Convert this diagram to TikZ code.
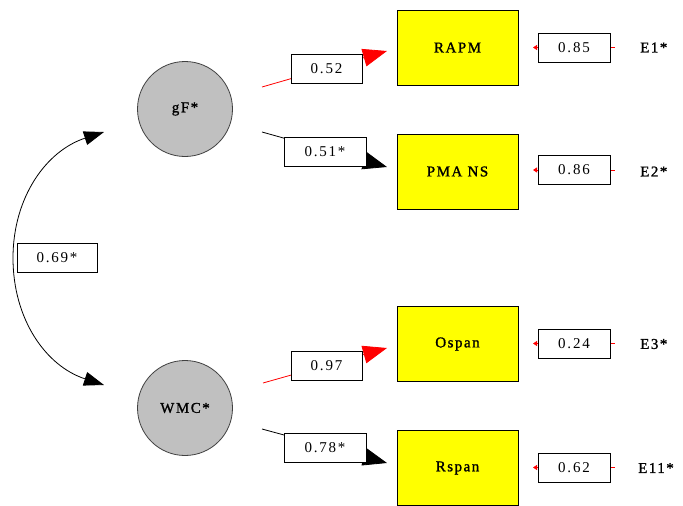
\documentclass[tikz,border=0pt]{standalone}
\usepackage{fontspec}
\setmainfont{Liberation Serif}
\newfontfamily\namefont[LetterSpace=10,FakeBold=1.2]{Liberation Serif}
\newfontfamily\numfont[LetterSpace=12]{Liberation Serif}
\usetikzlibrary{arrows.meta}
\definecolor{latgray}{HTML}{C0C0C0}
\definecolor{obsyel}{HTML}{FFFF00}
\tikzset{
  latent/.style={circle, fill=latgray, draw=black!75, line width=0.8pt, minimum size=95pt, inner sep=0pt, font=\namefont\fontsize{15}{17}\selectfont},
  observed/.style={rectangle, fill=obsyel, draw=black, line width=0.9pt, minimum width=121pt, minimum height=75pt, inner sep=0pt, font=\namefont\fontsize{15}{17}\selectfont},
  coef/.style={rectangle, fill=white, draw=black, line width=0.9pt, minimum height=29pt, inner sep=0pt, font=\numfont\fontsize{15}{17}\selectfont},
  errlab/.style={inner sep=0pt, anchor=west, font=\namefont\fontsize{15}{17}\selectfont},
  pathred/.style={red, line width=0.8pt, -{Triangle[length=24pt,width=18pt]}},
  pathblk/.style={black, line width=0.8pt, -{Triangle[length=24pt,width=18pt]}},
  errpath/.style={red, line width=0.8pt, {Triangle[length=4pt,width=5pt]}-},
  covpath/.style={black, line width=0.8pt, {Triangle[length=20pt,width=14pt]}-{Triangle[length=20pt,width=14pt]}}
}
\begin{document}
\begin{tikzpicture}[x=1pt,y=-1pt]
\useasboundingbox (0,0) rectangle (683,506);
% latent variables
\node[latent] (gF) at (185,109) {gF*};
\node[latent] (WMC) at (185,408) {WMC*};
% observed variables
\node[observed] (RAPM) at (457.5,47.5) {RAPM};
\node[observed] (PMA) at (457.5,171.5) {PMA NS};
\node[observed] (Ospan) at (457.5,344) {Ospan};
\node[observed] (Rspan) at (457.5,468) {Rspan};
% covariance
\coordinate (covtop) at (104,132);
\coordinate (covmid) at (13,258);
\coordinate (covbot) at (104,385);
\draw[covpath] (covtop) to[out=198,in=90] (covmid) to[out=-90,in=162] (covbot);
\node[coef, minimum width=80pt] (c69) at (57,257.5) {0.69*};
% loadings
\coordinate (s1) at (262,87);   \coordinate (t1) at (387,51);
\coordinate (s2) at (262,132);  \coordinate (t2) at (387,167);
\coordinate (s3) at (263,383);  \coordinate (t3) at (387,348);
\coordinate (s4) at (262,429);  \coordinate (t4) at (387,463);
\draw[pathred] (s1) -- (t1);
\draw[pathblk] (s2) -- (t2);
\draw[pathred] (s3) -- (t3);
\draw[pathblk] (s4) -- (t4);
\node[coef, minimum width=71pt] (l1) at (326.5,69) {0.52};
\node[coef, minimum width=82pt] (l2) at (325,151.5) {0.51*};
\node[coef, minimum width=71pt] (l3) at (326.5,365.5) {0.97};
\node[coef, minimum width=82pt] (l4) at (325,447.5) {0.78*};
% errors
\node[errlab] (E1) at (640,47.5) {E1*};
\node[errlab] (E2) at (640,171.5) {E2*};
\node[errlab] (E3) at (640,344) {E3*};
\node[errlab] (E11) at (638,468) {E11*};
\coordinate (ea1) at (533,47.5);  \coordinate (eb1) at (615,47.5);
\coordinate (ea2) at (533,170);   \coordinate (eb2) at (615,170);
\coordinate (ea3) at (533,343.5); \coordinate (eb3) at (615,343.5);
\coordinate (ea4) at (533,467.5); \coordinate (eb4) at (615,467.5);
\draw[errpath] (ea1) -- (eb1);
\draw[errpath] (ea2) -- (eb2);
\draw[errpath] (ea3) -- (eb3);
\draw[errpath] (ea4) -- (eb4);
\node[coef, minimum width=72pt] (e1) at (574,47.5) {0.85};
\node[coef, minimum width=72pt] (e2) at (574,170) {0.86};
\node[coef, minimum width=72pt] (e3) at (574,343.5) {0.24};
\node[coef, minimum width=72pt] (e4) at (574,467.5) {0.62};
\end{tikzpicture}
\end{document}
